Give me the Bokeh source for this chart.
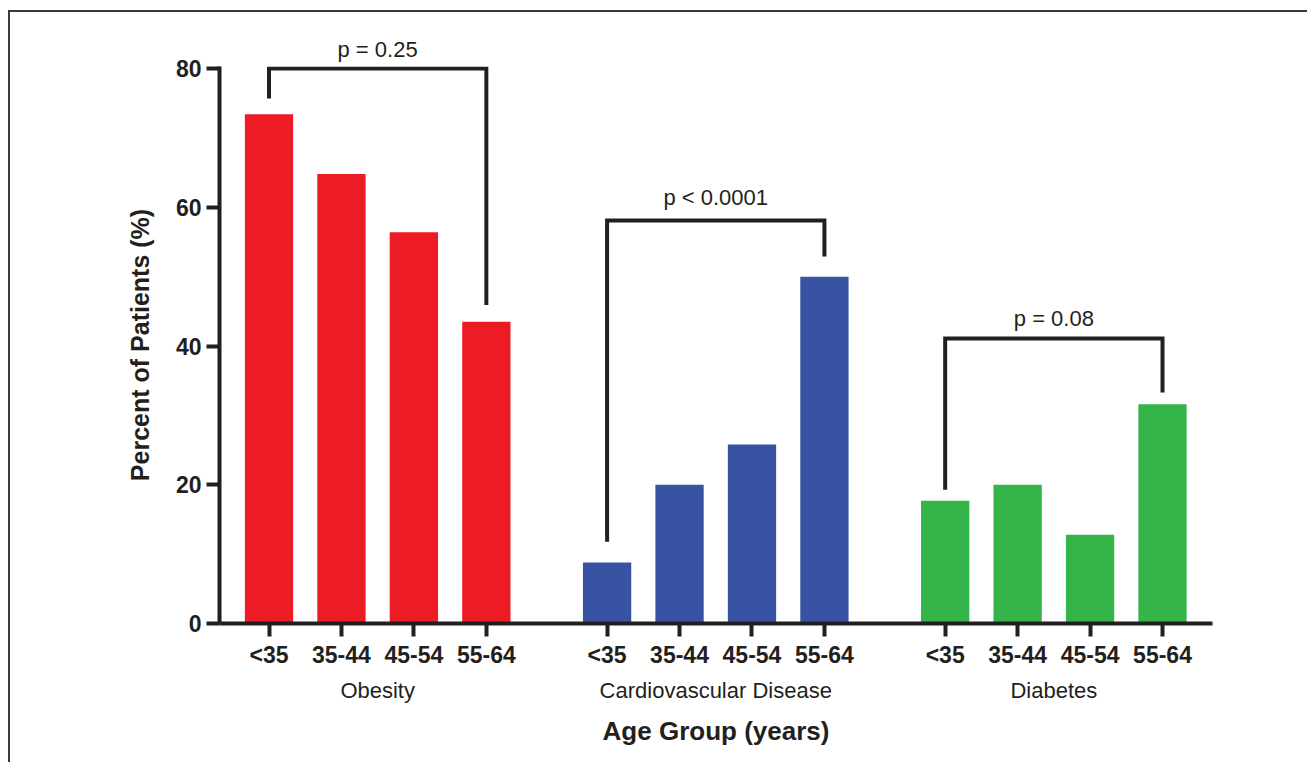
from bokeh.plotting import figure
from bokeh.models import Range1d, FixedTicker, LinearAxis
from bokeh.core.properties import value
from bokeh.embed import file_html
from bokeh.resources import INLINE

# ---- data ----
groups = ["Obesity", "Cardiovascular Disease", "Diabetes"]
age_groups = ["<35", "35-44", "45-54", "55-64"]
obesity = [73.4, 64.8, 56.4, 43.5]
cardiovascular = [8.8, 20.0, 25.8, 50.0]
diabetes = [17.7, 20.0, 12.8, 31.6]
p_values = ["p = 0.25", "p < 0.0001", "p = 0.08"]
y_ticks = [0, 20, 40, 60, 80]

series = [obesity, cardiovascular, diabetes]
colors = ["#ED1C24", "#3953A4", "#35B44A"]
ink = "#231F20"
FONT = "Liberation Sans"

# bracket geometry per group: (top, left-leg bottom, right-leg bottom)
brackets = [(80.0, 75.7, 45.9), (58.1, 11.8, 52.9), (41.1, 19.3, 33.3)]
p_label_y = [None, 61.4, 44.0]

p = figure(width=1299, height=752, output_backend="svg", toolbar_location=None,
           x_range=Range1d(-2.05, 39.07), y_range=Range1d(0, 80.3),
           min_border_left=209, min_border_right=97, min_border_top=54,
           min_border_bottom=141)
p.outline_line_color = None
p.xgrid.grid_line_color = None
p.ygrid.grid_line_color = None
p.background_fill_color = "white"
p.border_fill_color = "white"
p.styles = {"border-top": "2px solid #3a3a3a", "border-left": "2px solid #3a3a3a",
            "margin-left": "8px", "margin-top": "10px"}

# first p-value sits above the plot area: shown as the figure title
p.title.text = p_values[0]
p.title.align = "left"
p.title.offset = 118
p.title.standoff = 10
p.title.text_font = FONT
p.title.text_font_size = "22px"
p.title.text_font_style = "normal"
p.title.text_color = ink

positions = []
labels = {}
centers = []
for g, vals in enumerate(series):
    xs = [i * 3 + g * 14 for i in range(len(vals))]
    positions += xs
    for x, lab in zip(xs, age_groups):
        labels[x] = lab
    p.vbar(x=xs, top=vals, bottom=0, width=2.0, color=colors[g], line_color=None)
    top, lbot, rbot = brackets[g]
    p.line(x=[xs[0], xs[0], xs[-1], xs[-1]], y=[lbot, top, top, rbot],
           line_color=ink, line_width=4, line_join="miter", line_cap="butt")
    center = (xs[0] + xs[-1]) / 2
    centers.append(center)
    if p_label_y[g] is not None:
        p.text(x=[center], y=[p_label_y[g]], text=[p_values[g]], text_font=value(FONT),
               text_font_size="22px", text_color=ink, text_align="center",
               text_baseline="alphabetic")

xa = p.xaxis[0]
xa.ticker = FixedTicker(ticks=positions)
xa.major_label_overrides = labels
ya = p.yaxis[0]
ya.ticker = FixedTicker(ticks=y_ticks)
for ax in (xa, ya):
    ax.axis_line_color = ink
    ax.axis_line_width = 4
    ax.major_tick_line_color = ink
    ax.major_tick_line_width = 4
    ax.major_tick_in = 0
    ax.major_tick_out = 13
    ax.minor_tick_line_color = None
    ax.major_label_text_font = FONT
    ax.major_label_text_font_size = "23px"
    ax.major_label_text_font_style = "bold"
    ax.major_label_text_color = ink
xa.major_label_standoff = 5
ya.major_label_standoff = 5

ya.axis_label = "Percent of Patients (%)"
ya.axis_label_text_font = FONT
ya.axis_label_text_font_size = "25px"
ya.axis_label_text_font_style = "bold"
ya.axis_label_text_color = ink
ya.axis_label_standoff = 19

# second axis below: disease groups + overall axis title
ga = LinearAxis(ticker=FixedTicker(ticks=centers),
                major_label_overrides={c: n for c, n in zip(centers, groups)})
ga.axis_line_color = None
ga.major_tick_line_color = None
ga.minor_tick_line_color = None
ga.major_tick_in = 0
ga.major_tick_out = 0
ga.major_label_standoff = 7
ga.major_label_text_font = FONT
ga.major_label_text_font_size = "22px"
ga.major_label_text_color = ink
ga.axis_label = "Age Group (years)"
ga.axis_label_text_font = FONT
ga.axis_label_text_font_size = "26px"
ga.axis_label_text_font_style = "bold"
ga.axis_label_text_color = ink
ga.axis_label_standoff = 10
p.add_layout(ga, "below")

open("out.html", "w").write(file_html(p, INLINE))
